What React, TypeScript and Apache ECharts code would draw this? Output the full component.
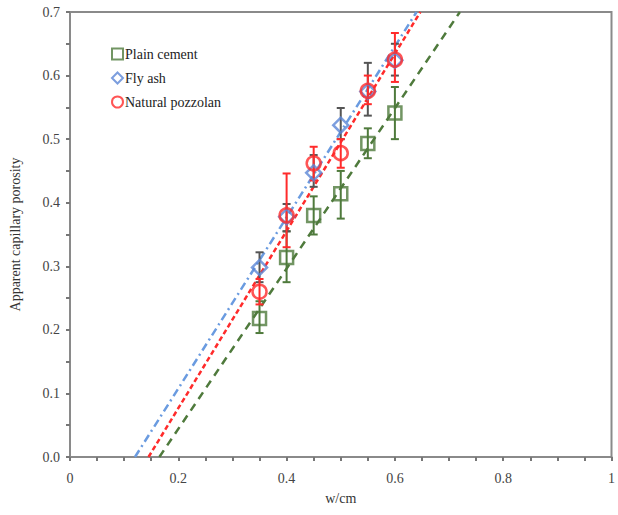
import React, { useEffect, useRef } from "react";
import * as echarts from "echarts";

const wcm = [0.35, 0.4, 0.45, 0.5, 0.55, 0.6];

const plainCement = [0.218, 0.314, 0.38, 0.414, 0.493, 0.541];
const plainLow = [0.195, 0.275, 0.35, 0.375, 0.47, 0.5];
const plainHigh = [0.245, 0.355, 0.41, 0.45, 0.517, 0.582];

const flyAsh = [0.298, 0.378, 0.447, 0.522, 0.575, 0.624];
const flyLow = [0.275, 0.355, 0.425, 0.5, 0.537, 0.6];
const flyHigh = [0.322, 0.398, 0.475, 0.549, 0.62, 0.65];

const natPozz = [0.26, 0.38, 0.462, 0.478, 0.576, 0.625];
const natLow = [0.24, 0.33, 0.435, 0.455, 0.555, 0.59];
const natHigh = [0.28, 0.446, 0.488, 0.5, 0.6, 0.667];

// trend lines: endpoints [x, y]
const plainTrend = [[0.165, 0], [0.72, 0.7]];
const flyTrend = [[0.12, 0], [0.64, 0.7]];
const natTrend = [[0.145, 0], [0.647, 0.7]];

const GREEN = "#4f7a3c";
const BLUE = "#5b86d6";
const RED = "#ff2b2b";
const FONT = "Liberation Serif";

function errData(low: number[], high: number[]) {
  return wcm.map((x, i) => [x, low[i], high[i]]);
}

function errSeries(low: number[], high: number[], color: string) {
  return {
    type: "custom",
    data: errData(low, high),
    silent: true,
    z: 3,
    renderItem: (params: any, api: any) => {
      const x = api.value(0);
      const lo = api.coord([x, api.value(1)]);
      const hi = api.coord([x, api.value(2)]);
      const w = 4;
      const style = { stroke: color, lineWidth: 2 };
      return {
        type: "group",
        children: [
          { type: "line", shape: { x1: lo[0], y1: lo[1], x2: hi[0], y2: hi[1] }, style },
          { type: "line", shape: { x1: lo[0] - w, y1: lo[1], x2: lo[0] + w, y2: lo[1] }, style },
          { type: "line", shape: { x1: hi[0] - w, y1: hi[1], x2: hi[0] + w, y2: hi[1] }, style },
        ],
      };
    },
  };
}

function pts(vals: number[]) {
  return wcm.map((x, i) => [x, vals[i]]);
}

export default function App() {
  const ref = useRef<HTMLDivElement>(null);
  useEffect(() => {
    if (!ref.current) return;
    const chart = echarts.init(ref.current, null, { renderer: "svg" });
    const axisLine = { lineStyle: { color: "#8a8a8a", width: 2 } };
    chart.setOption({
      animation: false,
      textStyle: { fontFamily: FONT },
      grid: {
        left: 66,
        right: 2,
        top: 12,
        bottom: 58,
        show: true,
        borderColor: "#8a8a8a",
        borderWidth: 2,
      },
      legend: {
        orient: "vertical",
        left: 106,
        top: 42,
        itemWidth: 11,
        itemHeight: 11,
        itemGap: 10,
        data: ["Plain cement", "Fly ash", "Natural pozzolan"],
        textStyle: { fontFamily: FONT, fontSize: 14, color: "#222", padding: [0, 0, 0, -3] },
      },
      xAxis: {
        type: "value",
        min: 0,
        max: 1,
        interval: 0.2,
        name: "w/cm",
        nameLocation: "middle",
        nameGap: 34,
        nameTextStyle: { fontFamily: FONT, fontSize: 14, color: "#333" },
        axisLine,
        axisTick: { show: true, length: 4, lineStyle: { color: "#777", width: 2 } },
        minorTick: { show: true, splitNumber: 4, length: 4, lineStyle: { color: "#777", width: 2 } },
        splitLine: { show: false },
        axisLabel: {
          fontFamily: FONT,
          fontSize: 14,
          color: "#444",
          margin: 14,
          formatter: (v: number) => (v === 0 ? "0" : v === 1 ? "1" : v.toFixed(1)),
        },
      },
      yAxis: {
        type: "value",
        min: 0,
        max: 0.7,
        interval: 0.1,
        name: "Apparent capillary porosity",
        nameLocation: "middle",
        nameGap: 48,
        nameTextStyle: { fontFamily: FONT, fontSize: 14, color: "#333" },
        axisLine,
        axisTick: { show: true, length: 4, lineStyle: { color: "#777", width: 2 } },
        minorTick: { show: true, splitNumber: 2, length: 4, lineStyle: { color: "#777", width: 2 } },
        splitLine: { show: false },
        axisLabel: {
          fontFamily: FONT,
          fontSize: 14,
          color: "#444",
          margin: 10,
          formatter: (v: number) => v.toFixed(1),
        },
      },
      series: [
        {
          type: "line",
          data: plainTrend,
          symbol: "none",
          silent: true,
          z: 1,
          lineStyle: { color: GREEN, width: 2.5, type: [8, 6] },
        },
        {
          type: "line",
          data: flyTrend,
          symbol: "none",
          silent: true,
          z: 1,
          lineStyle: { color: "#6a9be0", width: 2.5, type: [8, 4, 2, 4] },
        },
        {
          type: "line",
          data: natTrend,
          symbol: "none",
          silent: true,
          z: 1,
          lineStyle: { color: RED, width: 2.5, type: [5, 3] },
        },
        errSeries(plainLow, plainHigh, GREEN),
        errSeries(flyLow, flyHigh, "#555"),
        errSeries(natLow, natHigh, RED),
        {
          name: "Plain cement",
          type: "scatter",
          data: pts(plainCement),
          symbol: "rect",
          symbolSize: 13,
          z: 4,
          itemStyle: { color: "rgba(255,255,255,0)", borderColor: GREEN, borderWidth: 2.5 },
        },
        {
          name: "Fly ash",
          type: "scatter",
          data: pts(flyAsh),
          symbol: "diamond",
          symbolSize: 15,
          z: 5,
          itemStyle: { color: "rgba(255,255,255,0)", borderColor: BLUE, borderWidth: 2.5 },
        },
        {
          name: "Natural pozzolan",
          type: "scatter",
          data: pts(natPozz),
          symbol: "circle",
          symbolSize: 14,
          z: 6,
          itemStyle: { color: "rgba(255,255,255,0)", borderColor: RED, borderWidth: 2.5 },
        },
      ],
    });
    return () => chart.dispose();
  }, []);
  return <div ref={ref} style={{ width: 618, height: 515, position: "absolute", left: 0, top: 0 }} />;
}
